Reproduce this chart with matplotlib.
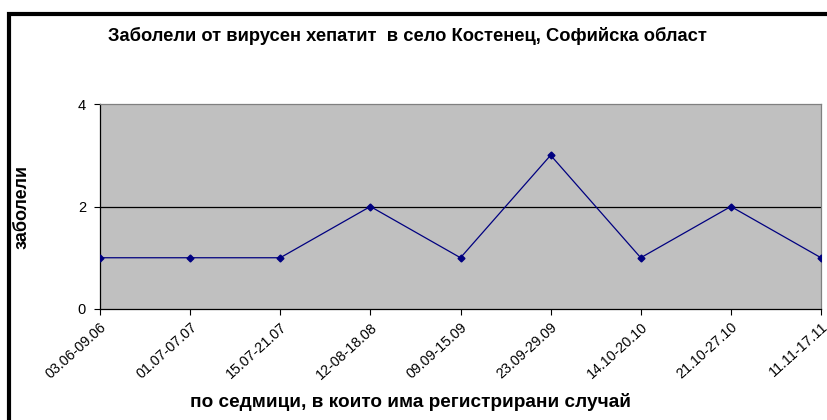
import matplotlib.pyplot as plt
from matplotlib.patches import Rectangle

plt.rcParams['font.family'] = ['Liberation Sans', 'DejaVu Sans']

# Weekly registered cases
weeks = ["03.06-09.06", "01.07-07.07", "15.07-21.07", "12-08-18.08", "09.09-15.09",
         "23.09-29.09", "14.10-20.10", "21.10-27.10", "11.11-17.11"]
cases = [1, 1, 1, 2, 1, 3, 1, 2, 1]
y_ticks = [0, 2, 4]

fig = plt.figure(figsize=(8.27, 4.2), dpi=100)
fig.patch.set_facecolor("white")

# Thick frame around the chart area
fig.patches.append(Rectangle((9 / 827, -0.1), 1.2, (420 - 14) / 420 + 0.1,
                             transform=fig.transFigure, fill=False,
                             edgecolor="black", linewidth=3.0, zorder=0))

ax = fig.add_axes([100 / 827, 1 - 309 / 420, 721 / 827, 205 / 420])
ax.set_facecolor("#C0C0C0")

x = list(range(len(weeks)))
ax.plot(x, cases, color="#000080", linewidth=0.9, marker="D", markersize=3.5,
        markerfacecolor="#000080", markeredgecolor="#000080", zorder=3)

ax.set_xlim(0, len(weeks) - 1)
ax.set_ylim(0, 4)
ax.set_yticks(y_ticks)
ax.set_xticks(x)
ax.set_xticklabels(weeks, rotation=42, ha="right", rotation_mode="anchor", fontsize=10.3)
ax.tick_params(axis="y", labelsize=10.5, length=4, width=0.8, pad=6)
ax.tick_params(axis="x", length=4, width=0.8, pad=4)

# Single horizontal gridline at 2
ax.axhline(2, color="black", linewidth=0.9, zorder=2)

ax.spines["left"].set_color("black")
ax.spines["bottom"].set_color("black")
ax.spines["top"].set_color("#808080")
ax.spines["right"].set_color("#808080")
for s in ax.spines.values():
    s.set_linewidth(0.9)

fig.text(407 / 827, 1 - 36 / 420, "Заболели от вирусен хепатит  в село Костенец, Софийска област",
         ha="center", va="center", fontsize=13.2, fontweight="bold")
fig.text(22 / 827, 1 - 207 / 420, "заболели", rotation=90, ha="center", va="center",
         fontsize=13, fontweight="bold")
fig.text(411 / 827, 1 - 402 / 420, "по седмици, в които има регистрирани случай",
         ha="center", va="center", fontsize=13.7, fontweight="bold")

fig.savefig("out.png", dpi=100)
